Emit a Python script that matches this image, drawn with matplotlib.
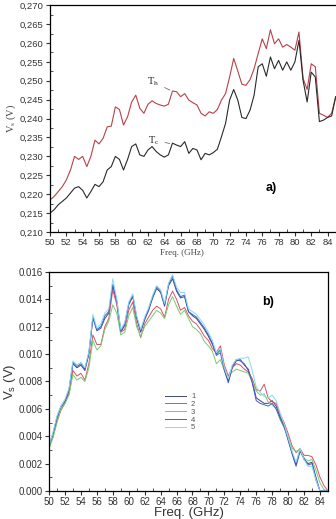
import numpy as np
import matplotlib
matplotlib.use("Agg")
import matplotlib.pyplot as plt
from matplotlib.ticker import MultipleLocator, FuncFormatter

plt.rcParams["font.family"] = ["Liberation Sans", "DejaVu Sans"]

# ---- panel a) ----
freq_a = np.arange(50, 85.01, 0.5)
v_th = [0.2185, 0.2194, 0.2207, 0.2220, 0.2238, 0.2264, 0.2300, 0.2292, 0.2300, 0.2273,
        0.2300, 0.2343, 0.2333, 0.2348, 0.2378, 0.2380, 0.2431, 0.2424, 0.2383, 0.2405,
        0.2444, 0.2462, 0.2427, 0.2414, 0.2438, 0.2447, 0.2440, 0.2436, 0.2433, 0.2438,
        0.2473, 0.2471, 0.2458, 0.2466, 0.2449, 0.2442, 0.2436, 0.2414, 0.2407, 0.2418,
        0.2414, 0.2424, 0.2449, 0.2466, 0.2510, 0.2559, 0.2526, 0.2491, 0.2488, 0.2503,
        0.2532, 0.2572, 0.2611, 0.2585, 0.2635, 0.2598, 0.2611, 0.2589, 0.2596, 0.2589,
        0.2581, 0.2629, 0.2506, 0.2477, 0.2545, 0.2537, 0.2414, 0.2409, 0.2403, 0.2414,
        0.2458]
v_tc = [0.2150, 0.2159, 0.2172, 0.2181, 0.2190, 0.2203, 0.2216, 0.2220, 0.2210, 0.2190,
        0.2207, 0.2226, 0.2220, 0.2233, 0.2264, 0.2273, 0.2300, 0.2292, 0.2264, 0.2292,
        0.2326, 0.2333, 0.2304, 0.2300, 0.2317, 0.2326, 0.2313, 0.2304, 0.2298, 0.2304,
        0.2335, 0.2330, 0.2326, 0.2339, 0.2308, 0.2321, 0.2317, 0.2291, 0.2308, 0.2304,
        0.2310, 0.2319, 0.2352, 0.2387, 0.2449, 0.2477, 0.2449, 0.2403, 0.2400, 0.2422,
        0.2462, 0.2537, 0.2545, 0.2512, 0.2563, 0.2532, 0.2554, 0.2528, 0.2550, 0.2528,
        0.2550, 0.2607, 0.2501, 0.2444, 0.2523, 0.2510, 0.2392, 0.2396, 0.2403, 0.2407,
        0.2458]

# ---- panel b) ----
freq_b = np.arange(50, 85.01, 0.5)
run_1 = [.0032, .0041, .0053, .0061, .0065, .0073, .0093, .0090, .0092, .0088,
         .0100, .0127, .0117, .0119, .0126, .0130, .0150, .0138, .0116, .0121,
         .0136, .0142, .0126, .0116, .0125, .0132, .0141, .0148, .0145, .0135,
         .0150, .0155, .0146, .0141, .0142, .0131, .0128, .0126, .0122, .0118,
         .0113, .0107, .0100, .0103, .0089, .0080, .0090, .0095, .0096, .0092,
         .0089, .0080, .0068, .0066, .0064, .0064, .0066, .0062, .0054, .0048,
         .0038, .0028, .0019, .0030, .0023, .0020, .0021, .0010, .0000, .0000, .0000]
run_2 = [.0032, .0040, .0051, .0059, .0064, .0071, .0088, .0084, .0086, .0081,
         .0093, .0114, .0107, .0107, .0120, .0126, .0147, .0136, .0116, .0118,
         .0132, .0138, .0122, .0112, .0122, .0127, .0132, .0135, .0133, .0127,
         .0140, .0146, .0140, .0132, .0134, .0128, .0124, .0122, .0118, .0113,
         .0110, .0104, .0101, .0106, .0092, .0084, .0090, .0093, .0092, .0089,
         .0087, .0082, .0074, .0073, .0078, .0068, .0065, .0064, .0056, .0050,
         .0042, .0033, .0028, .0031, .0026, .0026, .0025, .0019, .0010, .0004, .0000]
run_3 = [.0031, .0039, .0050, .0060, .0064, .0070, .0085, .0081, .0083, .0080,
         .0090, .0110, .0103, .0106, .0118, .0124, .0136, .0130, .0114, .0116,
         .0128, .0134, .0120, .0113, .0120, .0124, .0128, .0132, .0130, .0126,
         .0136, .0142, .0135, .0129, .0132, .0126, .0120, .0118, .0115, .0109,
         .0106, .0102, .0093, .0096, .0088, .0083, .0087, .0089, .0088, .0087,
         .0086, .0080, .0073, .0070, .0071, .0065, .0063, .0060, .0052, .0046,
         .0040, .0031, .0029, .0030, .0024, .0022, .0023, .0015, .0006, .0001, .0000]
run_4 = [.0033, .0042, .0054, .0062, .0066, .0074, .0094, .0091, .0093, .0089,
         .0101, .0126, .0118, .0120, .0128, .0131, .0151, .0139, .0117, .0122,
         .0137, .0143, .0127, .0117, .0126, .0133, .0142, .0149, .0146, .0136,
         .0151, .0157, .0147, .0142, .0143, .0131, .0129, .0127, .0123, .0119,
         .0114, .0108, .0099, .0101, .0088, .0079, .0091, .0096, .0095, .0093,
         .0088, .0079, .0066, .0064, .0063, .0062, .0064, .0060, .0053, .0047,
         .0037, .0027, .0018, .0029, .0024, .0019, .0020, .0008, .0000, .0000, .0000]
run_5 = [.0033, .0043, .0055, .0062, .0067, .0075, .0095, .0092, .0094, .0090,
         .0102, .0129, .0119, .0122, .0130, .0133, .0155, .0140, .0118, .0123,
         .0138, .0144, .0128, .0118, .0127, .0134, .0143, .0150, .0147, .0137,
         .0152, .0158, .0149, .0145, .0145, .0133, .0131, .0129, .0125, .0121,
         .0116, .0110, .0101, .0104, .0090, .0082, .0092, .0096, .0097, .0097,
         .0098, .0088, .0076, .0072, .0069, .0068, .0070, .0066, .0057, .0049,
         .0039, .0029, .0021, .0031, .0023, .0018, .0018, .0008, .0000, .0000, .0000]
run_labels = ["1", "2", "3", "4", "5"]
run_colors = ["#3c4a7a", "#d8506a", "#78cc6e", "#4a5ad0", "#86dcec"]

fig = plt.figure(figsize=(3.36, 5.19), dpi=100)
tick_col = "#333333"


def style_axes(ax, size):
    for s in ax.spines.values():
        s.set_linewidth(0.9)
    ax.tick_params(which="major", direction="out", length=3, width=0.8,
                   labelsize=size, colors=tick_col, pad=1.5)
    ax.tick_params(which="minor", direction="in", length=2, width=0.6, colors=tick_col)


# top panel
ax1 = fig.add_axes([0.149, 0.553, 0.855, 0.437])
ax1.plot(freq_a, v_th, color="#b8404a", lw=0.8)
ax1.plot(freq_a, v_tc, color="#2a2a2a", lw=0.8)
ax1.set_xlim(50, 85.2)
ax1.set_ylim(0.210, 0.270)
ax1.xaxis.set_major_locator(MultipleLocator(2))
ax1.xaxis.set_minor_locator(MultipleLocator(1))
ax1.yaxis.set_major_locator(MultipleLocator(0.005))
ax1.yaxis.set_minor_locator(MultipleLocator(0.0025))
ax1.yaxis.set_major_formatter(FuncFormatter(lambda v, p: f"{v:.3f}".replace(".", ",")))
style_axes(ax1, 6.8)
ax1.set_xlabel("Freq. (GHz)", family="Liberation Serif", fontsize=6.5, color="#444444")
ax1.xaxis.set_label_coords(0.46, -0.075)
ax1.set_ylabel(r"V$_\mathregular{s}$ (V)", family="Liberation Serif", fontsize=7.5, color="#444444")
ax1.yaxis.set_label_coords(-0.112, 0.5)
ax1.annotate(r"T$_\mathregular{h}$", xy=(65.0, 0.2472), xytext=(61.9, 0.2490),
             fontsize=7.5, family="Liberation Serif", color="#222222",
             arrowprops=dict(arrowstyle="-", color="#555555", lw=0.5))
ax1.annotate(r"T$_\mathregular{c}$", xy=(65.0, 0.2333), xytext=(62.0, 0.2335),
             fontsize=7.5, family="Liberation Serif", color="#222222",
             arrowprops=dict(arrowstyle="-", color="#555555", lw=0.5))
ax1.text(76.4, 0.2216, "a)", fontsize=9, fontweight="bold", va="center")

# bottom panel
ax2 = fig.add_axes([0.146, 0.054, 0.830, 0.422])
for yv, lab, col in zip([run_1, run_2, run_3, run_4, run_5], run_labels, run_colors):
    ax2.plot(freq_b, yv, color=col, lw=0.7, label=lab)
ax2.set_xlim(50, 85)
ax2.set_ylim(0, 0.016)
ax2.xaxis.set_major_locator(MultipleLocator(2))
ax2.xaxis.set_minor_locator(MultipleLocator(1))
ax2.yaxis.set_major_locator(MultipleLocator(0.002))
ax2.yaxis.set_minor_locator(MultipleLocator(0.001))
ax2.yaxis.set_major_formatter(FuncFormatter(lambda v, p: f"{v:.3f}"))
style_axes(ax2, 7)
ax2.set_xlabel("Freq. (GHz)", fontsize=9.5, color="#333333", labelpad=0)
ax2.set_ylabel(r"V$_\mathregular{s}$ (V)", fontsize=9.5, color="#333333")
ax2.yaxis.set_label_coords(-0.112, 0.5)
ax2.text(76.8, 0.0138, "b)", fontsize=9, fontweight="bold", va="center")
leg = ax2.legend(loc="center", bbox_to_anchor=(0.47, 0.36), frameon=False,
                 fontsize=5.5, handlelength=2.8, labelspacing=0.05,
                 handletextpad=0.6, borderpad=0)
for t in leg.get_texts():
    t.set_color("#555555")

fig.savefig("out.png", dpi=100)
